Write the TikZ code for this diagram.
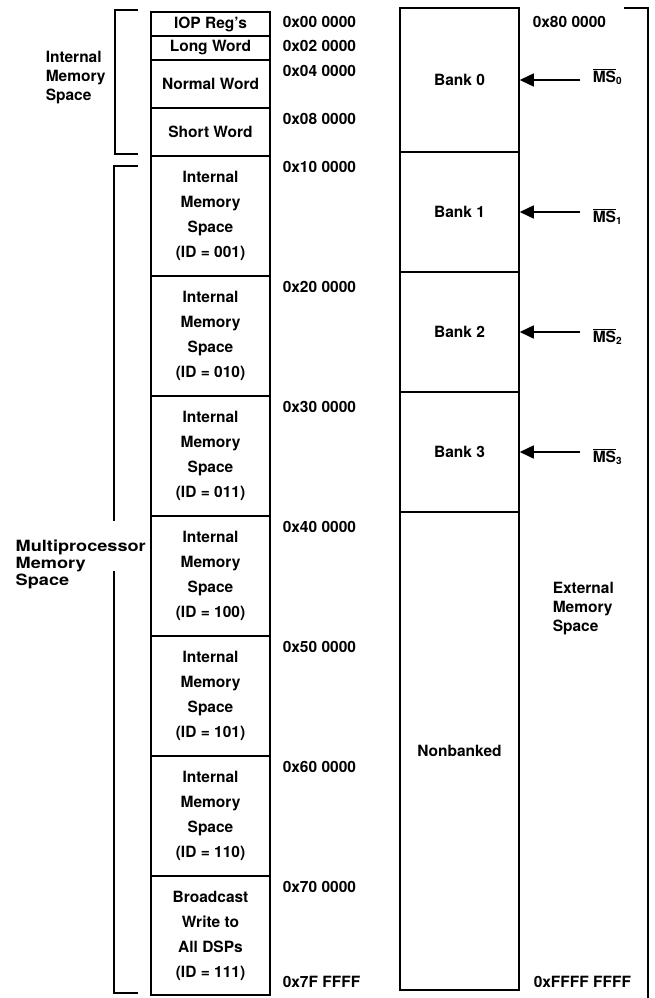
\documentclass[tikz,border=0pt]{standalone}
\usepackage{fontspec}
\setmainfont{TeX Gyre Heros}
\newfontfamily\widefont[FakeStretch=1.17]{TeX Gyre Heros}
\usetikzlibrary{arrows.meta}
\newcommand{\msbar}[1]{$\overline{\hbox{MS}}$\raisebox{-2.5pt}{\fontsize{10}{10}\selectfont#1}}

\begin{document}
\begin{tikzpicture}[x=1pt,y=-1pt,line width=1.5pt,
  every node/.style={font=\bfseries\fontsize{15.5}{25}\selectfont},
  cell/.style={draw,minimum width=119pt,inner sep=0pt,align=center},
  addr/.style={anchor=base west,inner sep=0pt},
  side/.style={anchor=north west,inner sep=0pt,align=left,font=\bfseries\fontsize{15.5}{19}\selectfont},
  sel/.style={-{Triangle[length=14pt,width=13pt]}}]
  \useasboundingbox (0,0) rectangle (654,998);

  \node[cell,minimum height=24pt] (iop) at (210.5,24) {IOP Reg's};
  \node[cell,minimum height=24pt] (long) at (210.5,48) {Long Word};
  \node[cell,minimum height=48pt] (normal) at (210.5,84) {Normal Word};
  \node[cell,minimum height=48pt] (short) at (210.5,132) {Short Word};
  \foreach \id [count=\i] in {001,010,011,100,101,110}
    \node[cell,minimum height=120pt] (int\id) at (210.5,96+120*\i)
      {Internal\\Memory\\Space\\(ID = \id)};
  \node[cell,minimum height=119pt] (bcast) at (210.5,935.5)
    {Broadcast\\Write to\\All DSPs\\(ID = 111)};

  \node[cell,minimum height=144pt] (bank0) at (459.5,80) {Bank 0};
  \foreach \b in {1,2,3}
    \node[cell,minimum height=120pt] (bank\b) at (459.5,92+120*\b) {Bank \b};
  \node[cell,minimum height=478pt] (nonbank) at (459.5,751) {Nonbanked};

  \foreach \a/\y [count=\k] in {00 0000/28,02 0000/52,04 0000/76,08 0000/124,
      10 0000/172,20 0000/292,30 0000/412,40 0000/532,50 0000/652,
      60 0000/772,70 0000/892,7F FFFF/987}
    \node[addr] (addr\k) at (282,\y) {0x\a};
  \node[addr] (extlo) at (532,28) {0x80 0000};
  \node[addr] (exthi) at (533,987) {0xFFFF FFFF};

  \foreach \b/\y in {0/82,1/222,2/342,3/462}
    \node[addr] (ms\b) at (592,\y) {\msbar{\b}};
  \coordinate (sel0) at (580,80);
  \draw[sel] (sel0) -- (bank0);
  \foreach \b in {1,2,3} {
    \coordinate (sel\b) at (580,92+120*\b);
    \draw[sel] (sel\b) -- (bank\b);
  }

  \node[side] (intlbl) at (45,50) {Internal\\Memory\\Space};
  \node[side,font=\widefont\bfseries\fontsize{15.5}{17}\selectfont] (mplbl) at (15,539)
    {Multiprocessor\\Memory\\Space};
  \node[side] (extlbl) at (552,581) {External\\Memory\\Space};

  \draw (138,10) -- (115,10) -- (115,154) -- (138,154);
  \draw (138,166) -- (114,166) -- (114,521);
  \draw (114,571) -- (114,993) -- (138,993);
  \draw (624,8) -- (648,8) -- (648,998);
\end{tikzpicture}
\end{document}
